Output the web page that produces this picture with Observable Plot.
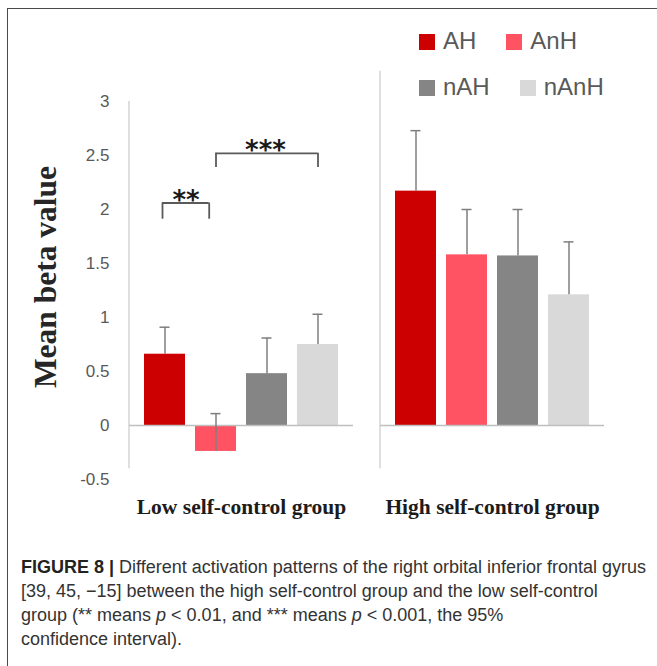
<!DOCTYPE html>
<html>
<head>
<meta charset="utf-8">
<script src="https://cdn.jsdelivr.net/npm/d3@7"></script>
<script src="https://cdn.jsdelivr.net/npm/@observablehq/plot@0.6"></script>
<style>
  html, body { margin: 0; padding: 0; background: #fff; }
  body { width: 657px; height: 666px; position: relative; overflow: hidden; }
  #frame { position: absolute; left: 7px; top: 8px; width: 800px; height: 800px;
           border-top: 1.5px solid #4a4a4a; border-left: 1.5px solid #4a4a4a; box-sizing: border-box; }
  #chart { position: absolute; left: 0; top: 0; }
  #legend { position: absolute; left: 419px; top: 0; }
  #legend .row { position: absolute; left: 0; white-space: nowrap; font-family: "Liberation Sans", Arial, sans-serif;
                 font-size: 24px; line-height: 24px; color: #595959; }
  #legend .item { display: inline-block; margin-right: 30px; }
  #legend .sw { display: inline-block; width: 16px; height: 16px; margin-right: 8px; vertical-align: -1px; }
  #ylabel { position: absolute; left: 46px; top: 277px; transform: translate(-50%, -50%) rotate(-90deg);
            font-family: "Liberation Serif", "Times New Roman", serif; font-weight: bold; font-size: 31.5px;
            line-height: 1; color: #262626; white-space: nowrap; }
  #caption { position: absolute; left: 21px; top: 555px; font-family: "Liberation Sans", Arial, sans-serif;
             font-size: 18px; line-height: 24px; color: #333; white-space: nowrap; }
  #caption b { color: #222; }
</style>
</head>
<body>
<div id="frame"></div>
<div id="chart"></div>
<div id="legend"></div>
<div id="ylabel"></div>
<div id="caption"></div>
<script>
// ---- data ----
const groups = ["Low self-control group", "High self-control group"];
const series = ["AH", "AnH", "nAH", "nAnH"];
const colors = ["#cc0000", "#ff5262", "#858585", "#d9d9d9"];
const lowMeans = [0.66, -0.24, 0.48, 0.75];
const lowErrors = [0.25, 0.35, 0.33, 0.28];
const highMeans = [2.17, 1.58, 1.57, 1.21];
const highErrors = [0.56, 0.42, 0.43, 0.49];
const yTicks = [-0.5, 0, 0.5, 1, 1.5, 2, 2.5, 3];
const yTitle = "Mean beta value";
const panelTops = [3, 3.28];
const panelBottom = -0.4;
const brackets = [
  {group: groups[0], from: "AH", to: "AnH", mid: "AH", top: 2.06, legs: 1.91, label: "**"},
  {group: groups[0], from: "AnH", to: "nAnH", mid: "nAH", top: 2.52, legs: 2.39, label: "***"}
];

const rows = groups.flatMap((g, gi) => series.map((s, si) => ({
  group: g, series: s,
  value: [lowMeans, highMeans][gi][si],
  error: [lowErrors, highErrors][gi][si]
})));
const panels = groups.map((g, i) => ({group: g, top: panelTops[i]}));

const errColor = "#7f7f7f";
const brColor = "#5a5a5a";
const half = 20.5; // half a bar band, so that band-spanning rules start at bar centres

const chart = Plot.plot({
  width: 657,
  height: 530,
  marginLeft: 128,
  marginRight: 52,
  marginTop: 101,
  marginBottom: 51,
  style: {fontFamily: "'Liberation Sans', Arial, sans-serif", fontSize: "17px", color: "#595959", background: "transparent"},
  fx: {domain: groups, paddingInner: 0.107, paddingOuter: 0, axis: null},
  x: {domain: series, paddingInner: 0.2, paddingOuter: 0.293, axis: null},
  y: {domain: [-0.5, 3], ticks: yTicks, tickSize: 0, tickPadding: 20, label: null,
      tickFormat: d => String(d)},
  color: {domain: series, range: colors},
  marks: [
    // panel left lines
    Plot.ruleX(panels, {fx: "group", x: null, y1: panelBottom, y2: "top", dx: -112.5,
      stroke: "#d4d4d4", strokeWidth: 1.5}),
    // bars
    Plot.barY(rows, {fx: "group", x: "series", y1: 0, y2: "value", fill: "series"}),
    // zero baseline
    Plot.ruleY([0], {stroke: "#bfbfbf", strokeWidth: 1.5}),
    // error bars
    Plot.ruleX(rows, {fx: "group", x: "series", y1: "value", y2: d => d.value + d.error,
      stroke: errColor, strokeWidth: 1.5}),
    Plot.tickY(rows, {fx: "group", x: "series", y: d => d.value + d.error,
      stroke: errColor, strokeWidth: 1.5, insetLeft: 15.5, insetRight: 15.5}),
    // bracket **
    Plot.ruleY(brackets.slice(0, 1), {fx: "group", x1: "from", x2: "to", y: "top", dx: -2.5,
      insetLeft: half, insetRight: half + 4.3, stroke: brColor, strokeWidth: 1.8}),
    Plot.ruleX(brackets.slice(0, 1), {fx: "group", x: "from", y1: "legs", y2: "top", dx: -2.5,
      stroke: brColor, strokeWidth: 1.8}),
    Plot.ruleX(brackets.slice(0, 1), {fx: "group", x: "to", y1: "legs", y2: "top", dx: -6.8,
      stroke: brColor, strokeWidth: 1.8}),
    Plot.text(brackets.slice(0, 1), {fx: "group", x: "mid", y: "top", text: "label", dx: 21, dy: 6,
      lineAnchor: "bottom", fontFamily: "'DejaVu Sans', sans-serif", fontWeight: "bold", fontSize: 26, fill: "#1a1a1a"}),
    // bracket ***
    Plot.ruleY(brackets.slice(1, 2), {fx: "group", x1: "from", x2: "to", y: "top",
      insetLeft: half, insetRight: half, stroke: brColor, strokeWidth: 1.8}),
    Plot.ruleX(brackets.slice(1, 2), {fx: "group", x: "from", y1: "legs", y2: "top",
      stroke: brColor, strokeWidth: 1.8}),
    Plot.ruleX(brackets.slice(1, 2), {fx: "group", x: "to", y1: "legs", y2: "top",
      stroke: brColor, strokeWidth: 1.8}),
    Plot.text(brackets.slice(1, 2), {fx: "group", x: "mid", y: "top", text: "label", dx: -1.5, dy: 6,
      lineAnchor: "bottom", fontFamily: "'DejaVu Sans', sans-serif", fontWeight: "bold", fontSize: 26, fill: "#1a1a1a"}),
    // group labels
    Plot.text(groups, {fx: d => d, text: d => d, frameAnchor: "bottom", lineAnchor: "bottom", dy: 34,
      fontFamily: "'Liberation Serif', 'Times New Roman', serif", fontWeight: "bold", fontSize: 21.5,
      fill: "#1c1c1c"})
  ]
});
document.getElementById("chart").appendChild(chart);

// legend: two rows of flowing entries
const legend = document.getElementById("legend");
const legendRowTops = [29, 75];
[[0, 1], [2, 3]].forEach((idx, r) => {
  const row = document.createElement("div");
  row.className = "row";
  row.style.top = legendRowTops[r] + "px";
  idx.forEach(i => {
    const item = document.createElement("span");
    item.className = "item";
    const sw = document.createElement("span");
    sw.className = "sw";
    sw.style.background = colors[i];
    item.appendChild(sw);
    item.appendChild(document.createTextNode(series[i]));
    row.appendChild(item);
  });
  legend.appendChild(row);
});

document.getElementById("ylabel").textContent = yTitle;

document.getElementById("caption").innerHTML =
  "<b>FIGURE 8 |</b> Different activation patterns of the right orbital inferior frontal gyrus<br>" +
  "[39, 45, \u221215] between the high self-control group and the low self-control<br>" +
  "group (** means <i>p</i> &lt; 0.01, and *** means <i>p</i> &lt; 0.001, the 95%<br>" +
  "confidence interval).";
</script>
</body>
</html>
